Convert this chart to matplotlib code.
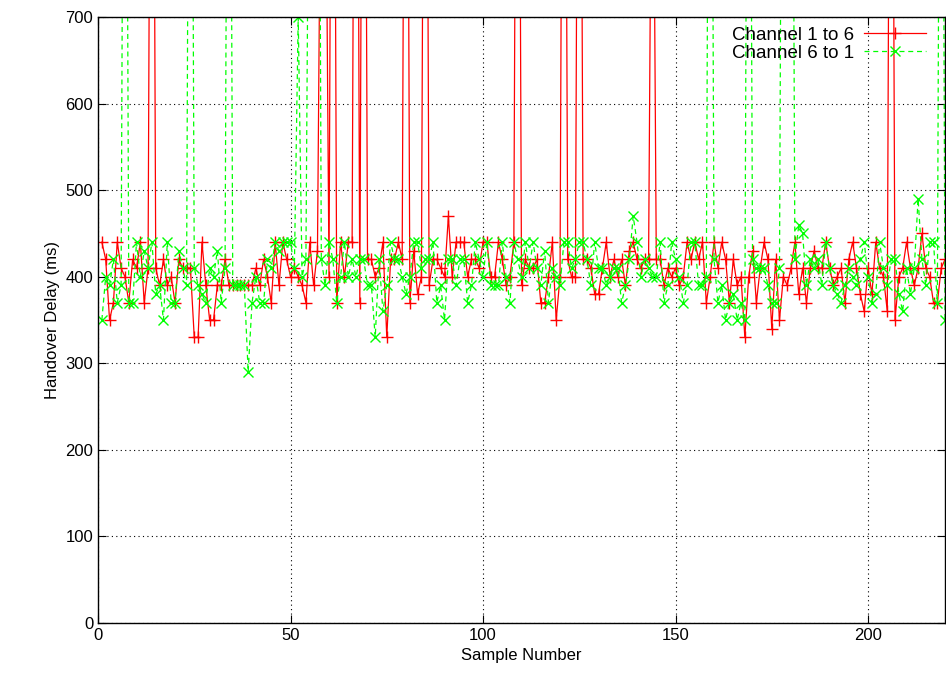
import numpy as np
import matplotlib
matplotlib.use("Agg")
import matplotlib.pyplot as plt

# handover delay per sample (ms), values above 700 run off the top of the plot
samples = np.arange(1, 221)

ch_1_to_6 = [
    440, 420, 350, 370, 440, 410, 400, 370, 420, 410,
    440, 370, 410, 1500, 410, 390, 420, 390, 400, 370,
    420, 410, 410, 410, 330, 330, 440, 390, 350, 350,
    390, 390, 420, 390, 390, 390, 390, 390, 390, 390,
    410, 390, 420, 400, 370, 440, 390, 440, 420, 400,
    410, 400, 390, 370, 440, 390, 430, 1000, 1000, 400,
    1500, 370, 440, 400, 440, 440, 1500, 370, 1500, 420,
    420, 400, 410, 440, 330, 420, 420, 440, 420, 1500,
    370, 430, 380, 400, 1500, 390, 420, 420, 410, 400,
    470, 400, 440, 440, 440, 400, 420, 420, 410, 440,
    440, 400, 400, 440, 420, 390, 400, 440, 1500, 390,
    420, 410, 410, 420, 370, 370, 400, 440, 350, 400,
    1500, 420, 400, 400, 1500, 420, 420, 410, 380, 380,
    410, 440, 400, 420, 400, 420, 390, 430, 440, 420,
    410, 420, 420, 1100, 420, 420, 390, 410, 400, 410,
    390, 400, 440, 420, 440, 420, 440, 370, 400, 440,
    410, 440, 420, 370, 420, 390, 400, 330, 400, 430,
    370, 410, 440, 420, 340, 420, 350, 400, 390, 410,
    440, 380, 410, 370, 410, 430, 410, 410, 440, 410,
    390, 400, 410, 370, 420, 440, 410, 380, 360, 410,
    380, 440, 410, 400, 360, 1500, 350, 400, 410, 440,
    410, 390, 410, 450, 410, 400, 370, 370, 410, 420,
]

ch_6_to_1 = [
    350, 400, 390, 420, 370, 390, 1500, 370, 370, 440,
    400, 430, 410, 440, 380, 390, 350, 440, 370, 370,
    430, 410, 390, 1500, 410, 390, 380, 370, 410, 400,
    430, 370, 410, 1500, 390, 390, 390, 390, 290, 370,
    400, 370, 370, 420, 410, 440, 430, 440, 440, 440,
    410, 700, 400, 420, 1100, 1500, 1500, 420, 390, 440,
    420, 370, 400, 440, 400, 420, 400, 420, 420, 390,
    390, 330, 420, 360, 390, 440, 420, 420, 400, 380,
    400, 440, 440, 410, 420, 420, 440, 370, 390, 350,
    420, 420, 390, 420, 420, 370, 390, 440, 420, 400,
    440, 390, 390, 390, 440, 400, 370, 440, 420, 400,
    440, 410, 440, 410, 390, 430, 370, 410, 400, 390,
    440, 440, 410, 420, 440, 440, 420, 390, 440, 410,
    410, 390, 400, 410, 410, 370, 390, 420, 470, 440,
    400, 420, 410, 400, 400, 440, 370, 390, 440, 420,
    400, 370, 390, 440, 440, 390, 390, 400, 1500, 420,
    370, 390, 350, 370, 380, 350, 370, 350, 1500, 420,
    410, 410, 410, 390, 370, 370, 410, 1500, 1500, 1500,
    420, 460, 450, 390, 420, 410, 420, 390, 440, 410,
    390, 380, 370, 390, 410, 400, 390, 420, 440, 400,
    370, 380, 440, 410, 390, 420, 420, 380, 360, 410,
    380, 410, 490, 420, 390, 440, 440, 370, 1500, 350,
]

plt.rcParams['font.family'] = ['Liberation Sans', 'DejaVu Sans']

fig = plt.figure(figsize=(9.46, 6.86), dpi=100)
ax = fig.add_axes([0.1036, 0.092, 0.8954, 0.883])

ax.plot(samples, ch_1_to_6, color='#ff0000', linewidth=0.9, marker='+',
        markersize=9, markeredgewidth=1.0, label='Channel 1 to 6')
ax.plot(samples, ch_6_to_1, color='#00ff00', linewidth=0.9, linestyle=(0, (4, 3)),
        marker='x', markersize=7, markeredgewidth=1.0, label='Channel 6 to 1')

ax.set_xlim(0, 220)
ax.set_ylim(0, 700)
ax.set_xticks([0, 50, 100, 150, 200])
ax.set_yticks(range(0, 701, 100))
ax.grid(True, color='black', linestyle=(0, (1, 3)), linewidth=0.8)
ax.tick_params(direction='in', top=True, right=True, labelsize=12, length=6)
for s in ax.spines.values():
    s.set_linewidth(1.0)

ax.set_xlabel('Sample Number', fontsize=12)
ax.set_ylabel('Handover Delay (ms)', fontsize=12)

ax.legend(loc='upper right', bbox_to_anchor=(0.988, 1.0), frameon=False,
          markerfirst=False, fontsize=13.5, handlelength=3.3, handletextpad=0.5,
          borderaxespad=0.3, borderpad=0.2, labelspacing=0.05)

fig.savefig('out.png', dpi=100)
